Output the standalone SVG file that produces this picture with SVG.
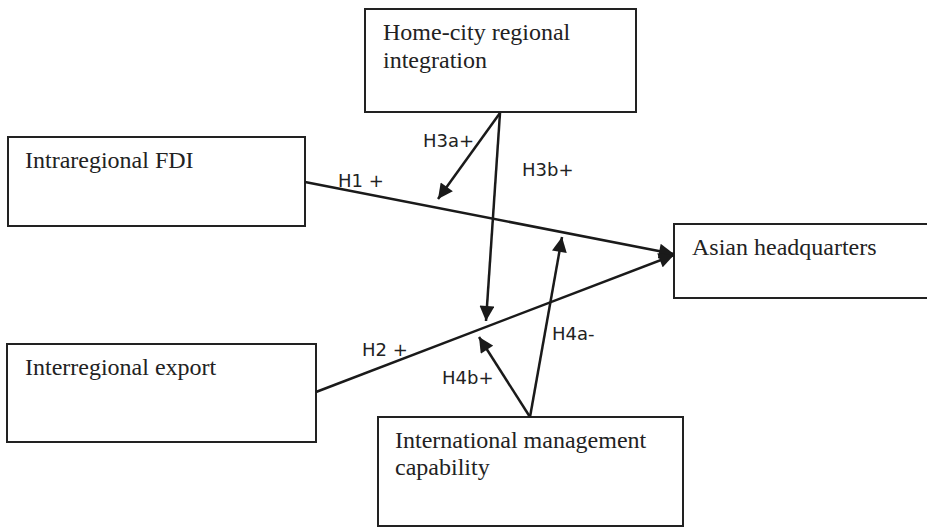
<svg xmlns="http://www.w3.org/2000/svg" width="927" height="528" viewBox="0 0 927 528">
<defs>
<style>
.box{fill:#fff;stroke:#222;stroke-width:2}
.t{font-family:"Liberation Serif","Times New Roman",serif;font-size:24px;fill:#222}
.lab{font-family:"DejaVu Sans",sans-serif;font-size:18px;fill:#222}
.ln{stroke:#1a1a1a;stroke-width:2.5;fill:none}
.arr{marker-end:url(#ah)}
</style>
<marker id="ah" viewBox="0 0 10 10" refX="10" refY="5" markerWidth="6.5" markerHeight="6" markerUnits="strokeWidth" orient="auto">
<path d="M0,0 L10,5 L0,10 z" fill="#1a1a1a"/>
</marker>
</defs>
<rect width="927" height="528" fill="#fff"/>
<g id="home-city">
<rect class="box" x="365" y="9" width="271" height="103"/>
<text class="t" x="383" y="40">Home-city regional</text>
<text class="t" x="383" y="68">integration</text>
</g>
<g id="intraregional">
<rect class="box" x="8" y="137" width="297" height="89"/>
<text class="t" x="25" y="168">Intraregional FDI</text>
</g>
<g id="interregional">
<rect class="box" x="7" y="344" width="309" height="98"/>
<text class="t" x="25" y="375">Interregional export</text>
</g>
<g id="asian-hq">
<rect class="box" x="674" y="224" width="270" height="74"/>
<text class="t" x="692" y="255">Asian headquarters</text>
</g>
<g id="intl-mgmt">
<rect class="box" x="378" y="417" width="305" height="109"/>
<text class="t" x="395" y="448">International management</text>
<text class="t" x="395" y="475">capability</text>
</g>
<g id="connectors">
<line class="ln arr" x1="305" y1="182" x2="674" y2="254"/>
<line class="ln arr" x1="316" y1="392" x2="674" y2="255"/>
<line class="ln arr" x1="500" y1="113" x2="438" y2="199"/>
<line class="ln arr" x1="500" y1="113" x2="486" y2="321"/>
<line class="ln arr" x1="530" y1="417" x2="562" y2="237"/>
<line class="ln arr" x1="530" y1="417" x2="479" y2="337"/>
<text class="lab" x="338" y="187">H1 +</text>
<text class="lab" x="362" y="356">H2 +</text>
<text class="lab" x="423" y="147">H3a+</text>
<text class="lab" x="522" y="176">H3b+</text>
<text class="lab" x="552" y="340">H4a-</text>
<text class="lab" x="442" y="384">H4b+</text>
</g>
</svg>
